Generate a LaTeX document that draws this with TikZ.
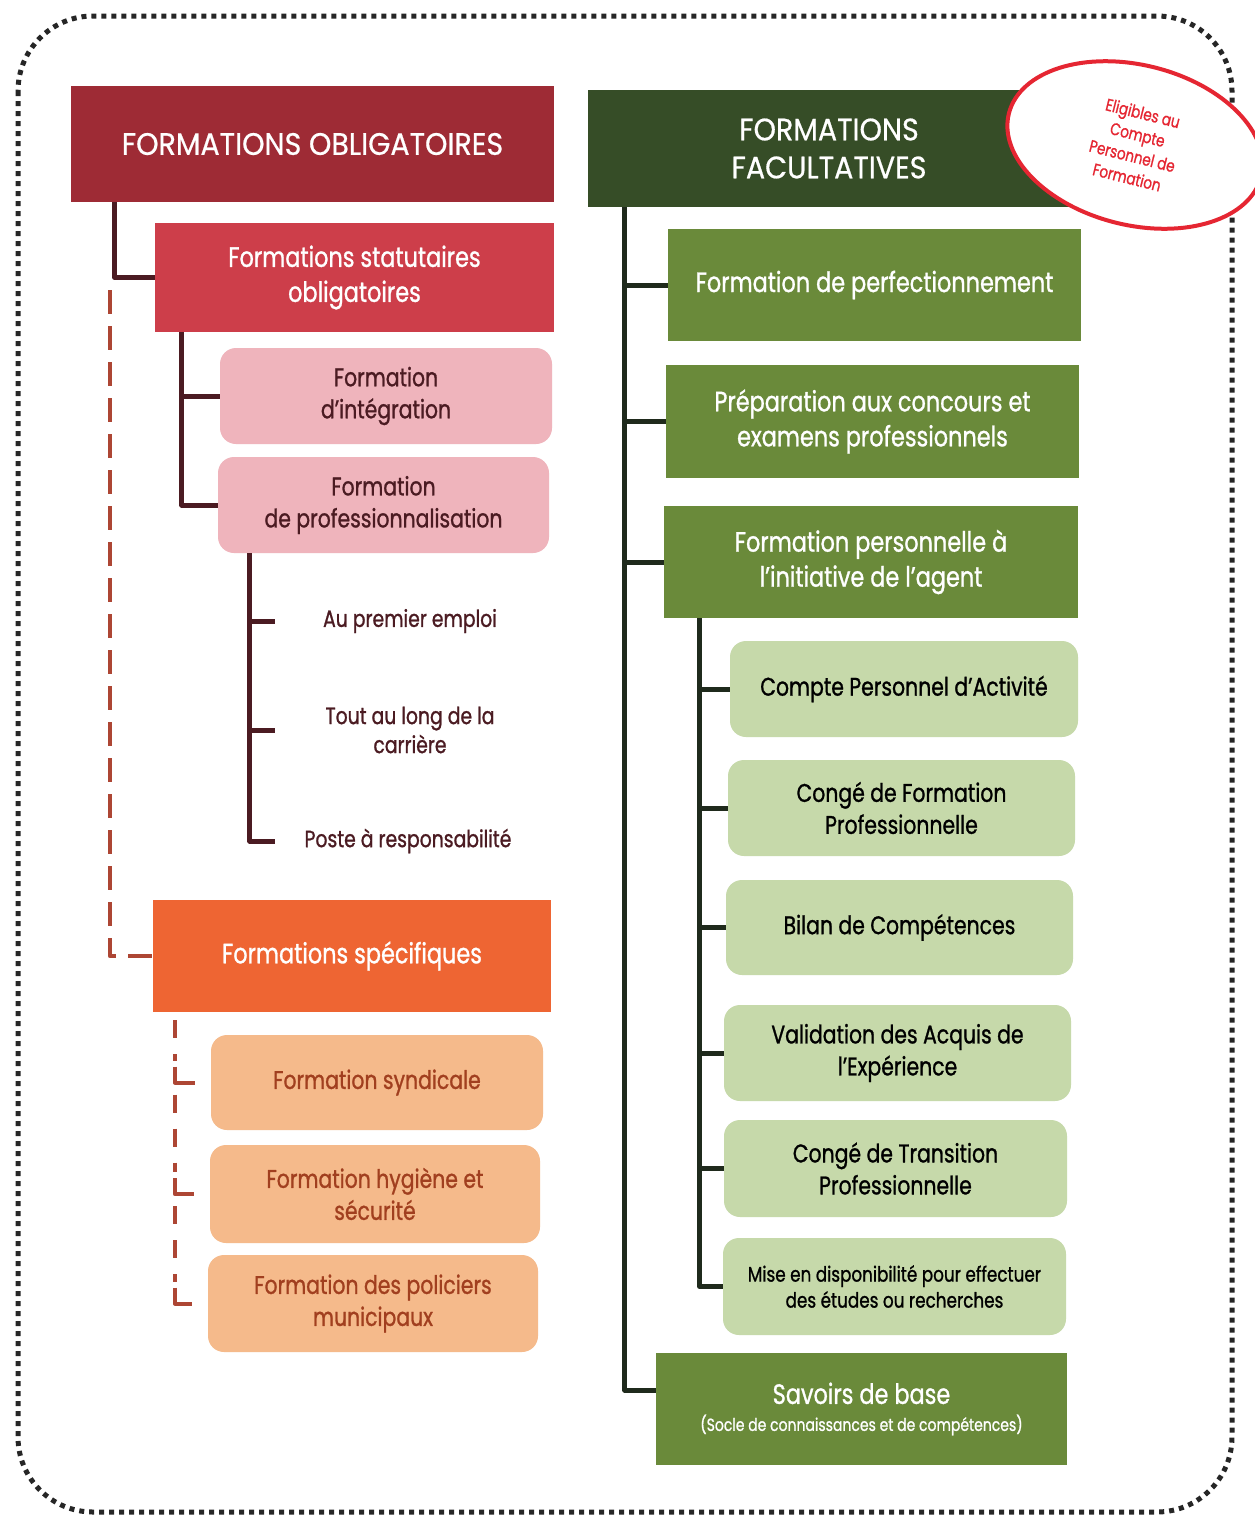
\documentclass[tikz,border=0pt]{standalone}
\usepackage{fontspec}
\setmainfont{Poppins}[FakeStretch=0.8,FakeBold=1]
\newfontfamily\titrefont{Poppins}[FakeStretch=0.92,FakeBold=0.6]
\usetikzlibrary{shapes.geometric}
\definecolor{oblRouge}{HTML}{9E2B35}
\definecolor{statRouge}{HTML}{CD3E4A}
\definecolor{roseBox}{HTML}{EFB4BC}
\definecolor{specOrange}{HTML}{EE6533}
\definecolor{peche}{HTML}{F5BA8B}
\definecolor{pecheTxt}{HTML}{A13F1F}
\definecolor{facVert}{HTML}{364D27}
\definecolor{vert}{HTML}{6A8A3A}
\definecolor{vertClair}{HTML}{C6D9AA}
\definecolor{bordeaux}{HTML}{4B1B22}
\definecolor{vertNoir}{HTML}{1F2A1C}
\definecolor{tiretRouge}{HTML}{AD4634}
\definecolor{tampon}{HTML}{E52632}
\begin{document}
\begin{tikzpicture}[x=1pt,y=-1pt,line join=round,
	wh/.style 2 args={minimum width=#1pt,minimum height=#2pt},
	titre/.style={rectangle,align=center,text=white,inner sep=0pt,font=\titrefont\fontsize{31}{38}\selectfont},
	niveau/.style={rectangle,align=center,text=white,inner sep=0pt,font=\fontsize{28}{35}\selectfont},
	sousbox/.style={rectangle,rounded corners=16pt,align=center,inner sep=0pt,font=\fontsize{25.5}{32}\selectfont},
	souslabel/.style={align=center,text=bordeaux,font=\fontsize{23.5}{29}\selectfont},
	arbreG/.style={draw=bordeaux,line width=5pt},
	arbreD/.style={draw=vertNoir,line width=5pt},
	pointille/.style={draw=tiretRouge,line width=4pt,dash pattern=on 24pt off 12pt},
	pointilleS/.style={draw=tiretRouge,line width=4pt,dash pattern=on 18pt off 16pt},
	coude/.style={draw=tiretRouge,line width=4pt}]
	%Cadre
	\fill[white] (0,0) rectangle (1254,1524);
	\useasboundingbox (0,0) rectangle (1254,1524);
	\draw[line width=5pt,dash pattern=on 5pt off 5pt,rounded corners=75pt,draw=black!85] (18,16) rectangle (1232,1512);
	%Formations obligatoires
	\node[titre,wh={483}{116},fill=oblRouge] (fo) at (312.5,144) {FORMATIONS OBLIGATOIRES};
	\node[niveau,wh={399}{109},fill=statRouge] (fso) at (354.5,277.5) {Formations statutaires\\obligatoires};
	\node[sousbox,wh={332}{96},fill=roseBox,text=bordeaux] (finteg) at (386,396) {Formation\\d’intégration};
	\node[sousbox,wh={331}{96},fill=roseBox,text=bordeaux] (fpro) at (383.5,505) {Formation\\de professionnalisation};
	\node[souslabel] (premier) at (410,621) {Au premier emploi};
	\node[souslabel] (carriere) at (410,730) {Tout au long de la\\carrière};
	\node[souslabel] (poste) at (408,841) {Poste à responsabilité};
	\node[niveau,wh={398}{112},fill=specOrange] (fspec) at (352,956) {Formations spécifiques};
	\node[sousbox,wh={332}{95},fill=peche,text=pecheTxt] (fsynd) at (377,1082.5) {Formation syndicale};
	\node[sousbox,wh={330}{98},fill=peche,text=pecheTxt] (fhyg) at (375,1194) {Formation hygiène et\\sécurité};
	\node[sousbox,wh={330}{97},fill=peche,text=pecheTxt] (fpol) at (373,1303.5) {Formation des policiers\\municipaux};
	%Formations facultatives
	\node[titre,wh={482}{117},fill=facVert] (ff) at (829,148.5) {FORMATIONS\\FACULTATIVES};
	\node[ellipse,draw=tampon,line width=4pt,fill=white,wh={260}{160},inner sep=0pt,rotate=-14,
		align=center,text=tampon,font=\fontsize{17}{22}\selectfont] (cpf) at (1135,145) {Eligibles au\\Compte\\Personnel de\\Formation};
	\node[niveau,wh={413}{112},fill=vert] (fperf) at (874.5,285) {Formation de perfectionnement};
	\node[niveau,wh={413}{113},fill=vert] (fprep) at (872.5,421.5) {Préparation aux concours et\\examens professionnels};
	\node[niveau,wh={414}{112},fill=vert] (fperso) at (871,562) {Formation personnelle à\\l’initiative de l’agent};
	\node[sousbox,wh={348}{96},fill=vertClair] (cpa) at (904,689) {Compte Personnel d’Activité};
	\node[sousbox,wh={347}{96},fill=vertClair] (cfp) at (901.5,808) {Congé de Formation\\Professionnelle};
	\node[sousbox,wh={347}{95},fill=vertClair] (bilan) at (899.5,927.5) {Bilan de Compétences};
	\node[sousbox,wh={347}{96},fill=vertClair] (vae) at (897.5,1053) {Validation des Acquis de\\l’Expérience};
	\node[sousbox,wh={343}{97},fill=vertClair] (ctp) at (895.5,1168.5) {Congé de Transition\\Professionnelle};
	\node[sousbox,wh={343}{97},fill=vertClair,font=\fontsize{21}{26}\selectfont] (dispo) at (894.5,1286.5) {Mise en disponibilité pour effectuer\\des études ou recherches};
	\node[niveau,wh={411}{112},fill=vert] (savoirs) at (861.5,1409) {Savoirs de base\\[-8pt]{\fontsize{17.5}{20}\selectfont (Socle de connaissances et de compétences)}};
	%Arbre gauche
	\draw[arbreG] ([xshift=44pt]fo.south west) |- (fso.west);
	\foreach \n in {finteg,fpro} \draw[arbreG] ([xshift=27pt]fso.south west) |- (\n.west);
	\coordinate (tp) at ([xshift=32pt]fpro.south west);
	\foreach \n in {premier,carriere,poste} \draw[arbreG] (tp) |- (tp |- \n) -- ++(25,0);
	\coordinate (d0) at ([xshift=39pt,yshift=-88pt]fo.south west);
	\draw[pointille] (d0) |- (fspec.west);
	\coordinate (s0) at ([xshift=22pt,yshift=-8pt]fspec.south west);
	\draw[pointilleS] (s0) -- ([yshift=22pt]s0 |- fsynd.west);
	\foreach \a/\b in {fsynd/fhyg,fhyg/fpol} \draw[pointilleS] ([yshift=-12pt]s0 |- \a.west) -- ([yshift=22pt]s0 |- \b.west);
	\foreach \n in {fsynd,fhyg,fpol} \draw[coude] ([yshift=16pt]s0 |- \n.west) |- ([xshift=-16pt]\n.west);
	%Arbre droit
	\coordinate (r0) at ([xshift=37pt]ff.south west);
	\draw[arbreD] (r0) |- ([yshift=19pt]savoirs.west);
	\foreach \n in {fperf,fprep,fperso} \draw[arbreD] (r0 |- \n.west) -- (\n.west);
	\coordinate (r1) at ([xshift=36pt]fperso.south west);
	\draw[arbreD] (r1) |- (dispo.west);
	\foreach \n in {cpa,cfp,bilan,vae,ctp} \draw[arbreD] (r1 |- \n.west) -- (\n.west);
\end{tikzpicture}
\end{document}
